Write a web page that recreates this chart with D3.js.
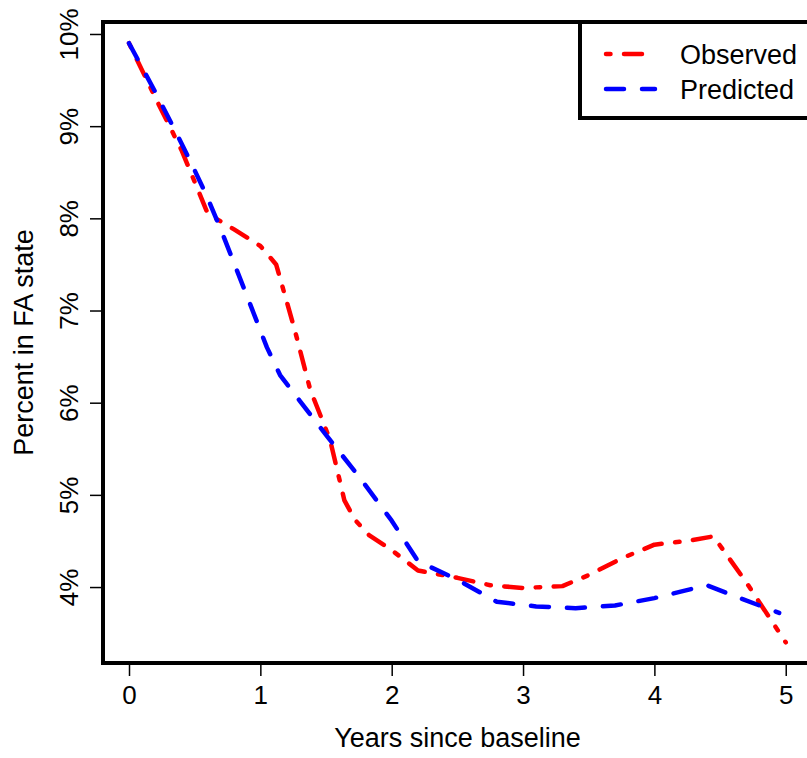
<!DOCTYPE html>
<html lang="en">
<head>
    <meta charset="UTF-8">
    <title>Percent in FA state</title>
    <script src="https://d3js.org/d3.v7.min.js"></script>
    <style>
        body { margin: 0; background: #ffffff; }
        svg { display: block; font-family: "Liberation Sans", Arial, sans-serif; }
        .tick-label { font-size: 26px; fill: #000; }
        .axis-title { font-size: 27px; fill: #000; }
        .legend-text { font-size: 27px; fill: #000; }
    </style>
</head>
<body>
    <svg width="807" height="758"></svg>

    <script>
        // years since baseline / percent in FA state
        const obsYears = [0, 0.2, 0.4, 0.6, 0.8, 1.0, 1.12, 1.26, 1.38, 1.53, 1.64, 1.72, 1.83, 2.0, 2.2, 2.5, 2.75, 3.0, 3.3, 3.5, 3.75, 4.0, 4.25, 4.45, 4.7, 5.0];
        const obsValues = [9.9, 9.31, 8.74, 8.05, 7.88, 7.7, 7.5, 6.8, 6.14, 5.6, 4.94, 4.73, 4.56, 4.4, 4.18, 4.1, 4.02, 3.99, 4.01, 4.13, 4.31, 4.46, 4.5, 4.55, 4.05, 3.4];

        const predYears = [0, 0.2, 0.33, 0.46, 0.59, 0.71, 0.9, 1.05, 1.15, 1.3, 1.5, 1.75, 2.0, 2.2, 2.5, 2.8, 3.1, 3.4, 3.7, 4.0, 4.2, 4.4, 4.65, 4.95];
        const predValues = [9.9, 9.37, 9.01, 8.64, 8.25, 7.84, 7.15, 6.6, 6.3, 6.02, 5.65, 5.2, 4.72, 4.28, 4.08, 3.84, 3.79, 3.77, 3.8, 3.88, 3.95, 4.02, 3.88, 3.72];

        const xTicks = [0, 1, 2, 3, 4, 5];
        const yTicks = [4, 5, 6, 7, 8, 9, 10];
        const legendLabels = ["Observed", "Predicted"];

        const svg = d3.select("svg");

        // plot region (right edge runs past the window, as in the original)
        const plotL = 103, plotT = 22, plotB = 663, plotR = 812;

        const x = d3.scaleLinear().domain([-0.198, 5.2]).range([plotL, plotR]);
        const y = d3.scaleLinear().domain([3.176, 10.13]).range([plotB, plotT]);

        const series = [
            { name: legendLabels[0], years: obsYears, values: obsValues, color: "#ff0000", dash: "4.5,13.5,18,13.5" },
            { name: legendLabels[1], years: predYears, values: predValues, color: "#0000ff", dash: "18,18" }
        ];

        const line = d3.line()
            .x(d => x(d[0]))
            .y(d => y(d[1]));

        series.forEach(s => {
            svg.append("path")
                .datum(s.years.map((yr, i) => [yr, s.values[i]]))
                .attr("d", line)
                .attr("fill", "none")
                .attr("stroke", s.color)
                .attr("stroke-width", 4.5)
                .attr("stroke-linecap", "round")
                .attr("stroke-linejoin", "round")
                .attr("stroke-dasharray", s.dash);
        });

        // box
        svg.append("rect")
            .attr("x", plotL)
            .attr("y", plotT)
            .attr("width", plotR - plotL)
            .attr("height", plotB - plotT)
            .attr("fill", "none")
            .attr("stroke", "#000")
            .attr("stroke-width", 4);

        // x axis
        const xAxis = d3.axisBottom(x)
            .tickValues(xTicks)
            .tickSize(12)
            .tickPadding(10)
            .tickFormat(d3.format("d"));

        const gx = svg.append("g")
            .attr("transform", `translate(0,${plotB + 1})`)
            .call(xAxis);
        gx.attr("font-size", null).attr("font-family", null);
        gx.select(".domain").remove();
        gx.selectAll(".tick line").attr("stroke", "#000").attr("stroke-width", 1.5);
        gx.selectAll(".tick text").attr("class", "tick-label");

        // y axis (labels rotated, R style)
        const yAxis = d3.axisLeft(y)
            .tickValues(yTicks)
            .tickSize(13)
            .tickFormat(d => d + "%");

        const gy = svg.append("g")
            .attr("transform", `translate(${plotL},0)`)
            .call(yAxis);
        gy.attr("font-size", null).attr("font-family", null);
        gy.select(".domain").remove();
        gy.selectAll(".tick line").attr("stroke", "#000").attr("stroke-width", 1.5);
        gy.selectAll(".tick text")
            .attr("class", "tick-label")
            .attr("x", null)
            .attr("dy", null)
            .attr("text-anchor", "middle")
            .attr("transform", "translate(-25,0) rotate(-90)");

        // axis titles
        svg.append("text")
            .attr("class", "axis-title")
            .attr("x", (plotL + plotR) / 2)
            .attr("y", 747)
            .attr("text-anchor", "middle")
            .text("Years since baseline");

        svg.append("text")
            .attr("class", "axis-title")
            .attr("transform", `translate(33,${(plotT + plotB) / 2}) rotate(-90)`)
            .attr("text-anchor", "middle")
            .text("Percent in FA state");

        // legend
        const legend = svg.append("g");
        legend.append("rect")
            .attr("x", 580)
            .attr("y", plotT)
            .attr("width", 260)
            .attr("height", 96)
            .attr("fill", "#fff")
            .attr("stroke", "#000")
            .attr("stroke-width", 4);

        series.forEach((s, i) => {
            const ly = 54 + i * 35;
            legend.append("line")
                .attr("x1", 606)
                .attr("x2", 655)
                .attr("y1", ly)
                .attr("y2", ly)
                .attr("stroke", s.color)
                .attr("stroke-width", 4.5)
                .attr("stroke-linecap", "round")
                .attr("stroke-dasharray", s.dash);
            legend.append("text")
                .attr("class", "legend-text")
                .attr("x", 680)
                .attr("y", ly + 10)
                .text(s.name);
        });
    </script>
</body>
</html>
